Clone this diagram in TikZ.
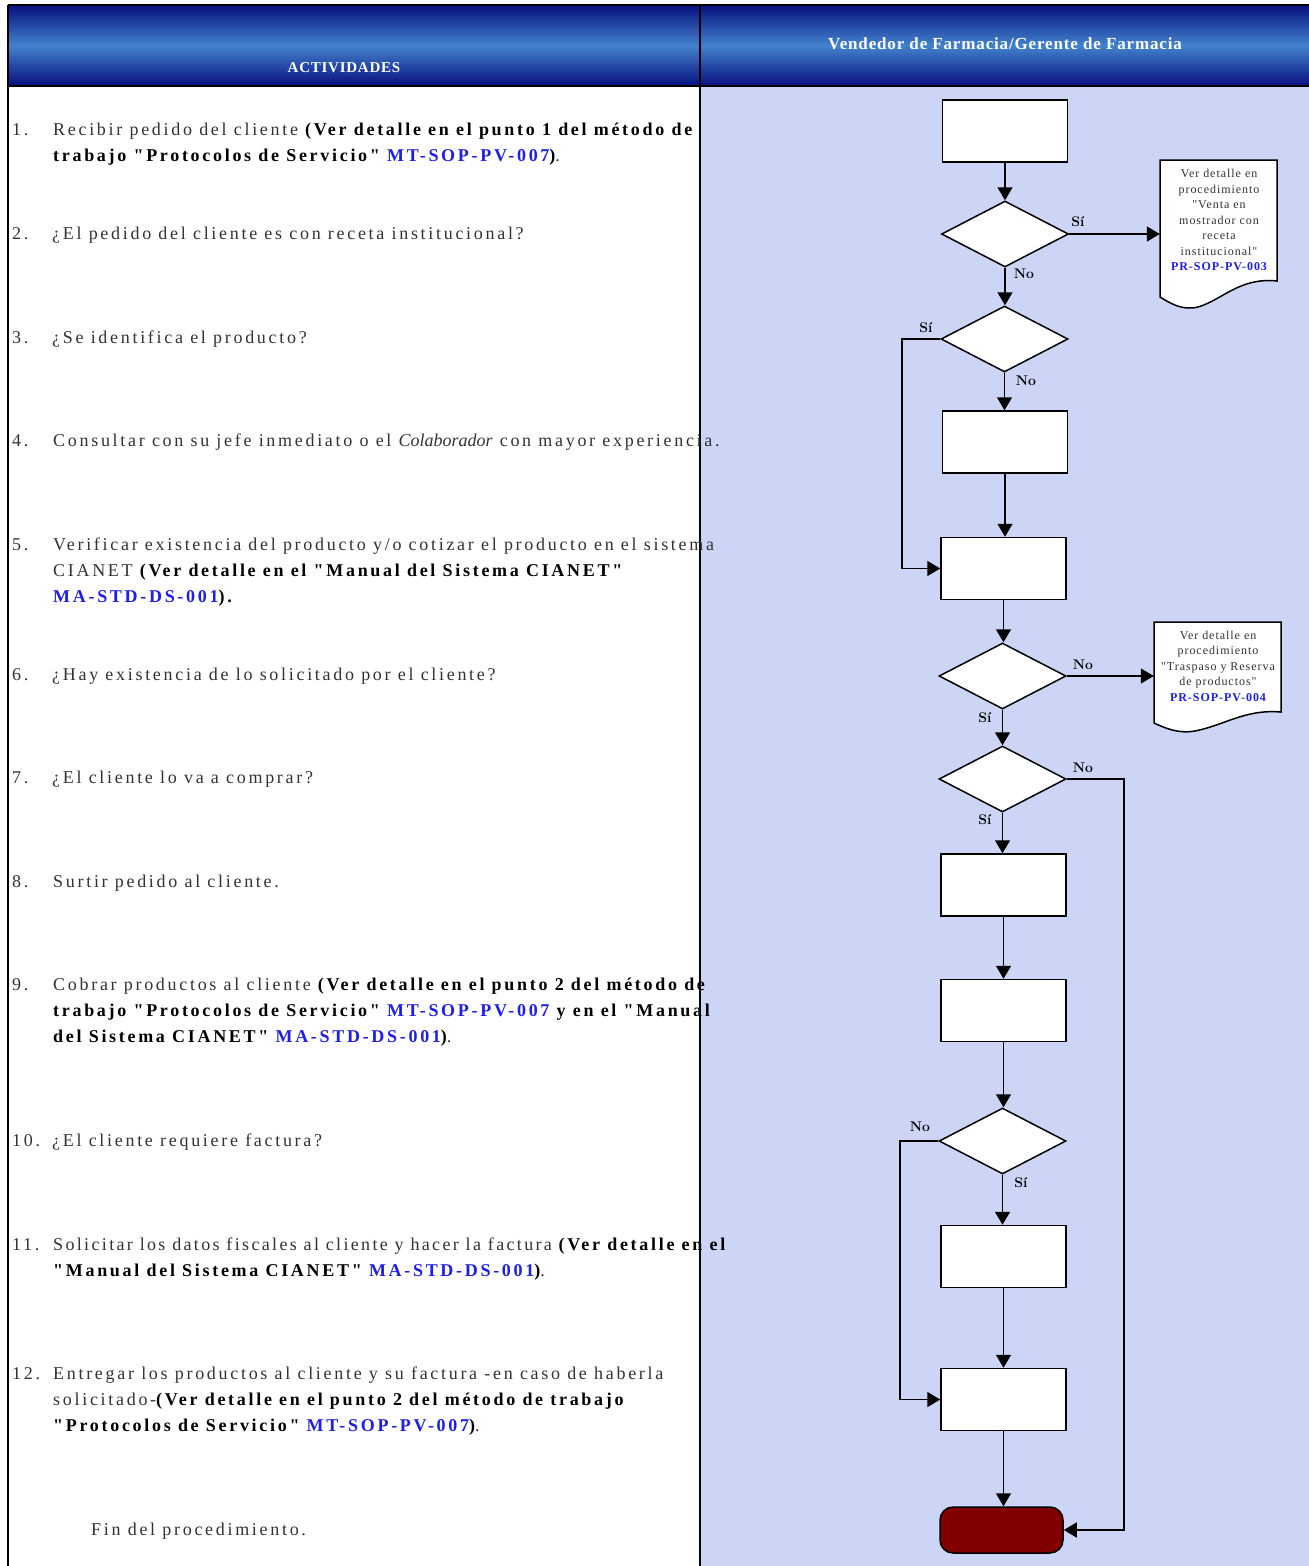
\documentclass[tikz,border=0pt]{standalone}
\usepackage{fontspec}
\usetikzlibrary{shapes.geometric,arrows.meta}
\newfontfamily\tx[LetterSpace=15]{Liberation Serif}
\newfontfamily\txn[LetterSpace=13]{Liberation Serif}
\newfontfamily\itx{Liberation Serif}
\newfontfamily\dtx[LetterSpace=8]{Liberation Serif}
\newfontfamily\hd[LetterSpace=5]{Liberation Serif}
\definecolor{hdark}{RGB}{8,16,128}
\definecolor{hlight}{RGB}{66,130,204}
\definecolor{lane}{RGB}{205,213,247}
\definecolor{codeblue}{RGB}{30,30,235}
\definecolor{txgray}{RGB}{50,50,50}
\definecolor{termred}{RGB}{128,0,0}
\newcommand\B[1]{{\tx\bfseries\color{black}#1}}
\newcommand\C[1]{{\bfseries\color{codeblue}#1}}
\newcommand\I[1]{{\itx\itshape #1}}
\begin{document}
\begin{tikzpicture}[x=1pt,y=-1pt,
  txline/.style={anchor=base west, inner sep=0, font=\tx\fontsize{18}{20}\selectfont, text=txgray},
  box/.style={draw, line width=1.5pt, fill=white, minimum width=125pt, minimum height=62pt, inner sep=0},
  dec/.style={diamond, draw, line width=1.5pt, fill=white, minimum width=127pt, minimum height=66pt, inner sep=0},
  flow/.style={line width=1.5pt, -{Triangle[length=13pt,width=15pt]}},
  lab/.style={font=\bfseries\fontsize{14}{16}\selectfont, inner sep=0},
  doctext/.style={inner sep=0, align=center, font=\dtx\fontsize{12}{15.5}\selectfont, text=txgray},
  hdtext/.style={inner sep=0, text=white, font=\hd\bfseries},
  docshape/.style={draw, line width=1.5pt, fill=white}
]
\useasboundingbox (0,0) rectangle (1309,1566);
\fill[white] (0,0) rectangle (1309,1566);
% lanes
\fill[lane] (701,87) rectangle (1309,1566);
% header
\shade[top color=hdark, bottom color=hdark, middle color=hlight] (8,5) rectangle (700,86);
\shade[top color=hdark, bottom color=hdark, middle color=hlight] (700,5) rectangle (1309,86);
\draw[line width=2pt] (8,5) -- (1309,5);
\draw[line width=2.5pt] (8,86) -- (1309,86);
\draw[line width=2pt] (8,5) -- (8,1566);
\draw[line width=2.5pt] (700,5) -- (700,1566);
\node[hdtext, font=\hd\bfseries\fontsize{15}{17}\selectfont] (hA) at (344,68) {ACTIVIDADES};
\node[hdtext, font=\hd\bfseries\fontsize{17}{19}\selectfont] (hB) at (1005,44) {Vendedor de Farmacia/Gerente de Farmacia};

% activities text
\node[txline] (n1) at (12,135) {1.};
\node[txline] (t1a) at (53,135) {Recibir pedido del cliente \B{(Ver detalle en el punto 1 del método de}};
\node[txline] (t1b) at (53,161) {\B{trabajo "Protocolos de Servicio"}\ \C{MT-SOP-PV-007}\B{)}.};
\node[txline] (n2) at (12,239) {2.};
\node[txline] (t2) at (52,239) {¿El pedido del cliente es con receta institucional?};
\node[txline] (n3) at (12,343) {3.};
\node[txline] (t3) at (52,343) {¿Se identifica el producto?};
\node[txline] (n4) at (12,446) {4.};
\node[txline] (t4) at (53,446) {Consultar con su jefe inmediato o el \I{Colaborador} con mayor experiencia.};
\node[txline] (n5) at (12,550) {5.};
\node[txline] (t5a) at (53,550) {Verificar existencia del producto y/o cotizar el producto en el sistema};
\node[txline] (t5b) at (53,576) {CIANET \B{(Ver detalle en el "Manual del Sistema CIANET"}};
\node[txline] (t5c) at (53,602) {\C{MA-STD-DS-001}\B{).}};
\node[txline] (n6) at (12,680) {6.};
\node[txline] (t6) at (52,680) {¿Hay existencia de lo solicitado por el cliente?};
\node[txline] (n7) at (12,783) {7.};
\node[txline] (t7) at (52,783) {¿El cliente lo va a comprar?};
\node[txline] (n8) at (12,887) {8.};
\node[txline] (t8) at (53,887) {Surtir pedido al cliente.};
\node[txline] (n9) at (12,990) {9.};
\node[txline] (t9a) at (53,990) {Cobrar productos al cliente \B{(Ver detalle en el punto 2 del método de}};
\node[txline] (t9b) at (53,1016) {\B{trabajo "Protocolos de Servicio"}\ \C{MT-SOP-PV-007}\ \B{y en el "Manual}};
\node[txline] (t9c) at (53,1042) {\B{del Sistema CIANET"}\ \C{MA-STD-DS-001}\B{)}.};
\node[txline] (n10) at (12,1146) {10.};
\node[txline] (t10) at (52,1146) {¿El cliente requiere factura?};
\node[txline] (n11) at (12,1250) {11.};
\node[txline, font=\txn\fontsize{18}{20}\selectfont] (t11a) at (53,1250) {Solicitar los datos fiscales al cliente y hacer la factura \B{(Ver detalle en el}};
\node[txline] (t11b) at (53,1276) {\B{"Manual del Sistema CIANET"}\ \C{MA-STD-DS-001}\B{)}.};
\node[txline] (n12) at (12,1379) {12.};
\node[txline] (t12a) at (53,1379) {Entregar los productos al cliente y su factura -en caso de haberla};
\node[txline] (t12b) at (53,1405) {solicitado-\B{(Ver detalle en el punto 2 del método de trabajo}};
\node[txline] (t12c) at (53,1431) {\B{"Protocolos de Servicio"}\ \C{MT-SOP-PV-007}\B{)}.};
\node[txline] (tfin) at (91,1535) {Fin del procedimiento.};

% flowchart nodes
\node[box] (b1) at (1005,131) {};
\node[dec] (d2) at (1005,234) {};
\node[dec] (d3) at (1004.5,339) {};
\node[box] (b4) at (1005,442) {};
\node[box] (b5) at (1003.5,568.5) {};
\node[dec] (d6) at (1002.5,676) {};
\node[dec] (d7) at (1002.5,779) {};
\node[box] (b8) at (1003.5,885) {};
\node[box] (b9) at (1003.5,1010.5) {};
\node[dec] (d10) at (1002.5,1141) {};
\node[box] (b11) at (1003.5,1256.5) {};
\node[box] (b12) at (1003.5,1399.5) {};
\node[draw, line width=1.5pt, fill=termred, rounded corners=13pt, minimum width=123pt, minimum height=46pt, inner sep=0] (term) at (1001.5,1530) {};

% document shapes
\draw[docshape] (1160,160) -- (1277,160) -- (1277,281) .. controls (1240,277) and (1222,300) .. (1198,307) .. controls (1182,311) and (1170,303) .. (1160,297) -- cycle;
\node[minimum width=117pt, minimum height=137pt, inner sep=0] (doc1) at (1218.5,228.5) {};
\node[doctext] (doc1t) at (1219,220) {Ver detalle en\\procedimiento\\"Venta en\\mostrador con\\receta\\institucional"\\\C{PR-SOP-PV-003}};
\draw[docshape] (1154,622) -- (1281,622) -- (1281,712) .. controls (1245,709) and (1225,725) .. (1195,731) .. controls (1178,734) and (1165,728) .. (1154,723) -- cycle;
\node[minimum width=127pt, minimum height=101pt, inner sep=0] (doc2) at (1217.5,672.5) {};
\node[doctext] (doc2t) at (1218,666) {Ver detalle en\\procedimiento\\"Traspaso y Reserva\\de productos"\\\C{PR-SOP-PV-004}};

% connectors
\draw[flow] (b1.south) -- (b1.south |- d2.north);
\draw[flow] (d2.east) -- (d2.east -| doc1.west);
\draw[flow] (d2.south) -- (d2.south |- d3.north);
\draw[flow] (d3.west) -- (902,339) |- (b5.west);
\draw[flow] (d3.south) -- (d3.south |- b4.north);
\draw[flow] (b4.south) -- (b4.south |- b5.north);
\draw[flow] (b5.south) -- (b5.south |- d6.north);
\draw[flow] (d6.east) -- (d6.east -| doc2.west);
\draw[flow] (d6.south) -- (d6.south |- d7.north);
\draw[flow] (d7.east) -- (1124,779) |- (term.east);
\draw[flow] (d7.south) -- (d7.south |- b8.north);
\draw[flow] (b8.south) -- (b8.south |- b9.north);
\draw[flow] (b9.south) -- (b9.south |- d10.north);
\draw[flow] (d10.west) -- (900,1141) |- (b12.west);
\draw[flow] (d10.south) -- (d10.south |- b11.north);
\draw[flow] (b11.south) -- (b11.south |- b12.north);
\draw[flow] (b12.south) -- (b12.south |- term.north);

% labels
\node[lab] (l1) at (1078,222) {Sí};
\node[lab] (l2) at (1024,274) {No};
\node[lab] (l3) at (926,328) {Sí};
\node[lab] (l4) at (1026,381) {No};
\node[lab] (l5) at (1083,665) {No};
\node[lab] (l6) at (985,718) {Sí};
\node[lab] (l7) at (1083,768) {No};
\node[lab] (l8) at (985,820) {Sí};
\node[lab] (l9) at (920,1127) {No};
\node[lab] (l10) at (1021,1183) {Sí};
\end{tikzpicture}
\end{document}
